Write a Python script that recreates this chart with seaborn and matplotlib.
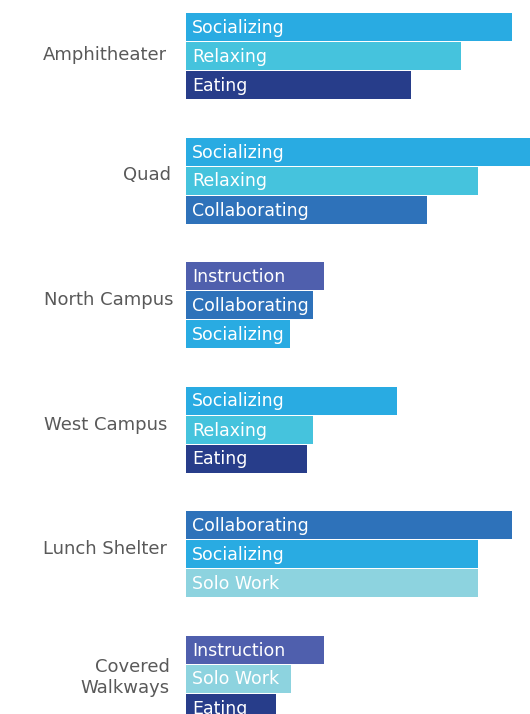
import matplotlib
matplotlib.use("Agg")
import matplotlib.pyplot as plt
import seaborn as sns
import pandas as pd

locations = ["Amphitheater", "Quad", "North Campus", "West Campus", "Lunch Shelter", "Covered\nWalkways"]
activities = [
    ["Socializing", "Relaxing", "Eating"],
    ["Socializing", "Relaxing", "Collaborating"],
    ["Instruction", "Collaborating", "Socializing"],
    ["Socializing", "Relaxing", "Eating"],
    ["Collaborating", "Socializing", "Solo Work"],
    ["Instruction", "Solo Work", "Eating"],
]
values = [
    [94.8, 80.0, 65.4],
    [100.0, 84.9, 70.1],
    [40.1, 37.0, 30.2],
    [61.3, 37.0, 35.2],
    [94.8, 84.9, 84.9],
    [40.1, 30.5, 26.2],
]
palette = {
    "Socializing": "#29ABE2",
    "Relaxing": "#45C3DD",
    "Eating": "#273D8A",
    "Collaborating": "#2E72BA",
    "Instruction": "#4F5FAD",
    "Solo Work": "#8DD3DF",
}

# layout (pixel-like vertical units)
GROUP_STEP = 124.5
BAR_STEP = 29.0
FIRST = 27.0
label_right = [167, 171, 173, 167, 167, 170]
label_dy = [-1, -5, -5, -5, -5, -1]

rows = []
for g, (loc, acts, vals) in enumerate(zip(locations, activities, values)):
    for j, (a, v) in enumerate(zip(acts, vals)):
        rows.append({"loc": loc, "activity": a, "value": v,
                     "pos": FIRST + g * GROUP_STEP + j * BAR_STEP})
df = pd.DataFrame(rows)

sns.set_theme(style="white")
plt.rcParams["font.family"] = ["DejaVu Sans"]

fig = plt.figure(figsize=(5.30, 7.14), dpi=100)
ax = fig.add_axes([186 / 530, 0, 1 - 186 / 530, 1])

sns.barplot(data=df, x="value", y="pos", hue="activity", palette=palette,
            orient="h", native_scale=True, dodge=False, legend=False,
            width=28 / 29, ax=ax, saturation=1, errorbar=None, linewidth=0)

ax.set_xlim(0, 100)
ax.set_ylim(714, 0)
ax.axis("off")

for _, r in df.iterrows():
    ax.text(1.75, r["pos"] + 1.0, r["activity"], color="white", fontsize=12.5,
            va="center", ha="left")

for g, loc in enumerate(locations):
    yc = FIRST + g * GROUP_STEP + BAR_STEP + label_dy[g]
    fig.text(label_right[g] / 530, 1 - yc / 714, loc, color="#595959", fontsize=13,
             ha="right", va="center", linespacing=1.25)

fig.savefig("out.png", dpi=100)
